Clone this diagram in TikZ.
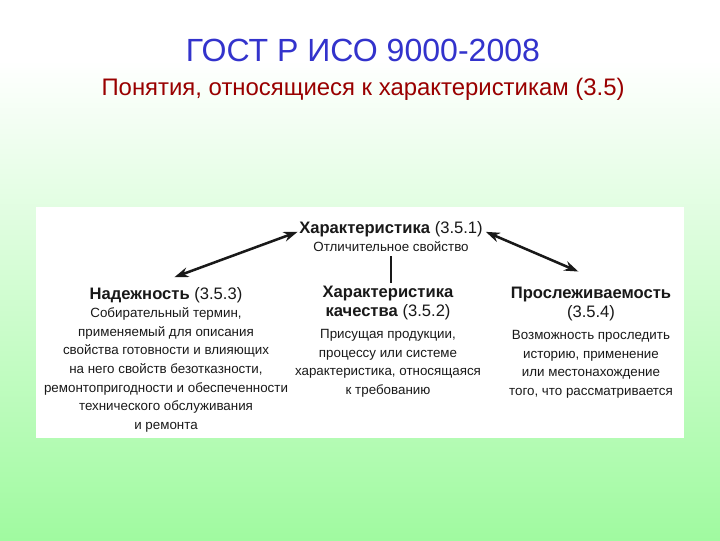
\documentclass[tikz,border=0pt]{standalone}
\usepackage{fontspec}
\setmainfont{Liberation Sans}
\usetikzlibrary{positioning,arrows.meta}

\definecolor{titleblue}{RGB}{51,51,204}
\definecolor{subred}{RGB}{153,0,0}
\definecolor{bggreen}{RGB}{160,250,160}
\definecolor{ink}{RGB}{25,25,25}

\tikzset{
  head/.style={inner sep=0pt, align=center, text=ink, font=\fontsize{11.8}{13.6}\selectfont},
  desc/.style={inner sep=0pt, align=center, text=ink, font=\fontsize{9.5}{13.3}\selectfont},
  link/.style={line width=1.8pt, ink, {Stealth[length=10pt,width=7pt]}-{Stealth[length=10pt,width=7pt]}}
}

\begin{document}
\begin{tikzpicture}[x=0.025cm, y=-0.025cm]
% background
\useasboundingbox (0,0) rectangle (720,540);
\fill[white] (0,0) rectangle (720,60);
\shade[top color=white, bottom color=bggreen] (0,60) rectangle (720,540);
\fill[white] (36,207) rectangle (684,438);

% titles
\node[text=titleblue, font=\fontsize{22.8}{26}\selectfont] (title) at (363,50) {ГОСТ Р ИСО 9000-2008};
\node[text=subred, font=\fontsize{17}{20}\selectfont] (subtitle) at (363,89) {Понятия, относящиеся к характеристикам (3.5)};

% top
\node[head, anchor=north] (n351) at (391,221) {\textbf{Характеристика} (3.5.1)};
\node[desc, below=3pt of n351] (d351) {Отличительное свойство};

% middle
\node[head, anchor=north] (n352) at (388,286) {\textbf{Характеристика}\\\textbf{качества} (3.5.2)};
\node[desc, below=6pt of n352] (d352) {Присущая продукции,\\процессу или системе\\характеристика, относящаяся\\к требованию};

% left
\node[head, anchor=north] (n353) at (166,287) {\textbf{Надежность} (3.5.3)};
\node[desc, below=3pt of n353] (d353) {Собирательный термин,\\применяемый для описания\\свойства готовности и влияющих\\на него свойств безотказности,\\ремонтопригодности и обеспеченности\\технического обслуживания\\и ремонта};

% right
\node[head, anchor=north] (n354) at (591,287) {\textbf{Прослеживаемость}\\(3.5.4)};
\node[desc, below=6pt of n354] (d354) {Возможность проследить\\историю, применение\\или местонахождение\\того, что рассматривается};

% links
\draw[link] ([shift={(-1pt,-2pt)}]n351.west) -- ([shift={(6pt,7pt)}]n353.north);
\draw[link] ([shift={(2pt,-2pt)}]n351.east) -- ([shift={(-9pt,11pt)}]n354.north);
\draw[line width=1.3pt, ink] ([yshift=-3pt]d351.south) -- ([yshift=2pt]d351.south |- n352.north);
\end{tikzpicture}
\end{document}
